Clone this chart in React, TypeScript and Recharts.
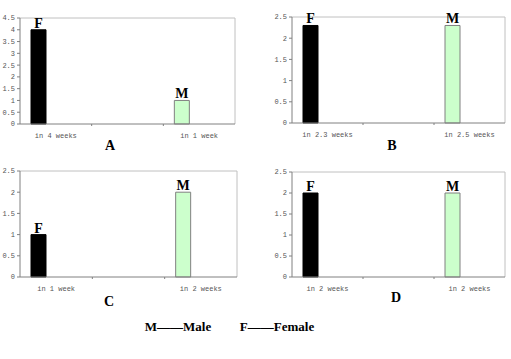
import { Bar, BarChart, CartesianGrid, Cell, LabelList, XAxis, YAxis } from "recharts";

// panel A
const weeksA = ["in 4 weeks", "", "in 1 week"];
const valuesA = [4, null, 1];
const sexA = ["F", "", "M"];
// panel B
const weeksB = ["in 2.3 weeks", "", "in 2.5 weeks"];
const valuesB = [2.3, null, 2.3];
const sexB = ["F", "", "M"];
// panel C
const weeksC = ["in 1 week", "", "in 2 weeks"];
const valuesC = [1, null, 2];
const sexC = ["F", "", "M"];
// panel D
const weeksD = ["in 2 weeks", "", "in 2 weeks"];
const valuesD = [2, null, 2];
const sexD = ["F", "", "M"];

const ticksA = [0, 0.5, 1, 1.5, 2, 2.5, 3, 3.5, 4, 4.5];
const ticksBCD = [0, 0.5, 1, 1.5, 2, 2.5];

const build = (weeks: string[], values: (number | null)[], sex: string[]) =>
  weeks.map((w, i) => ({ week: w, value: values[i], sex: sex[i] }));

const AXIS = "#808080";
const BORDER = "#c0c0c0";
const TICK_TEXT = "#555";
const MONO = "Liberation Mono, DejaVu Sans Mono, monospace";
const SERIF = "Liberation Serif, Times New Roman, serif";

function WeekTick(props: any) {
  const { x, y, payload, index, half } = props;
  return (
    <g>
      {index > 0 && <line x1={x - half} x2={x - half} y1={y} y2={y + 2} stroke={AXIS} />}
      <text x={x} y={y + 14} textAnchor="middle" fontSize={7} fontFamily={MONO} fill={TICK_TEXT}>
        {payload.value}
      </text>
    </g>
  );
}

interface PanelProps {
  data: { week: string; value: number | null; sex: string }[];
  ticks: number[];
  left: number;
  top: number;
  plotW: number;
  plotH: number;
}

function Panel({ data, ticks, left, top, plotW, plotH }: PanelProps) {
  const width = 20 + plotW + 8;
  const height = 18 + plotH + 30;
  const half = plotW / 6;
  return (
    <div style={{ position: "absolute", left: left - 20, top: top - 18 }}>
      <BarChart
        width={width}
        height={height}
        data={data}
        margin={{ top: 18, right: 8, left: 0, bottom: 0 }}
        barSize={15}
        barGap={20}
      >
        <CartesianGrid
          stroke={BORDER}
          horizontalCoordinatesGenerator={({ offset }: any) => [offset.top]}
          verticalCoordinatesGenerator={({ offset }: any) => [offset.left + offset.width]}
        />
        <XAxis
          dataKey="week"
          height={30}
          interval={0}
          tickLine={false}
          tickSize={0}
          tickMargin={0}
          axisLine={{ stroke: AXIS }}
          tick={(p: any) => <WeekTick {...p} half={half} />}
        />
        <YAxis
          type="number"
          domain={[0, ticks[ticks.length - 1]]}
          ticks={ticks}
          interval={0}
          width={20}
          tickSize={3}
          tickMargin={2}
          axisLine={{ stroke: AXIS }}
          tickLine={{ stroke: AXIS }}
          tick={{ fontSize: 7, fontFamily: MONO, fill: TICK_TEXT }}
        />
        <Bar dataKey="value" isAnimationActive={false}>
          {data.map((d, i) => (
            <Cell
              key={i}
              fill={d.sex === "F" ? "#000000" : "#ccffcc"}
              stroke={d.sex === "F" ? "#000000" : AXIS}
            />
          ))}
          <LabelList
            dataKey="sex"
            position="top"
            offset={2}
            fill="#000"
            fontSize={14}
            fontWeight="bold"
            fontFamily={SERIF}
          />
        </Bar>
        <Bar dataKey="ghost" isAnimationActive={false} />
      </BarChart>
    </div>
  );
}

const letterStyle = (x: number, y: number): React.CSSProperties => ({
  position: "absolute",
  left: x,
  top: y,
  transform: "translate(-50%, -50%)",
  fontFamily: SERIF,
  fontWeight: "bold",
  fontSize: 14,
  lineHeight: 1,
  color: "#000",
  whiteSpace: "nowrap",
});

export default function App() {
  return (
    <div
      style={{
        position: "absolute",
        left: 0,
        top: 0,
        width: 511,
        height: 359,
        background: "#fff",
        overflow: "hidden",
      }}
    >
      <Panel data={build(weeksA, valuesA, sexA)} ticks={ticksA} left={20} top={18} plotW={215} plotH={106} />
      <Panel data={build(weeksB, valuesB, sexB)} ticks={ticksBCD} left={292} top={17} plotW={213} plotH={106} />
      <Panel data={build(weeksC, valuesC, sexC)} ticks={ticksBCD} left={20} top={171} plotW={217} plotH={106} />
      <Panel data={build(weeksD, valuesD, sexD)} ticks={ticksBCD} left={292} top={172} plotW={213} plotH={105} />

      <div style={letterStyle(110, 146)}>A</div>
      <div style={letterStyle(392, 146)}>B</div>
      <div style={letterStyle(109, 302)}>C</div>
      <div style={letterStyle(396, 298)}>D</div>

      <div style={{ ...letterStyle(178, 326), fontSize: 13 }}>M——Male</div>
      <div style={{ ...letterStyle(277, 326), fontSize: 13 }}>F——Female</div>
    </div>
  );
}
